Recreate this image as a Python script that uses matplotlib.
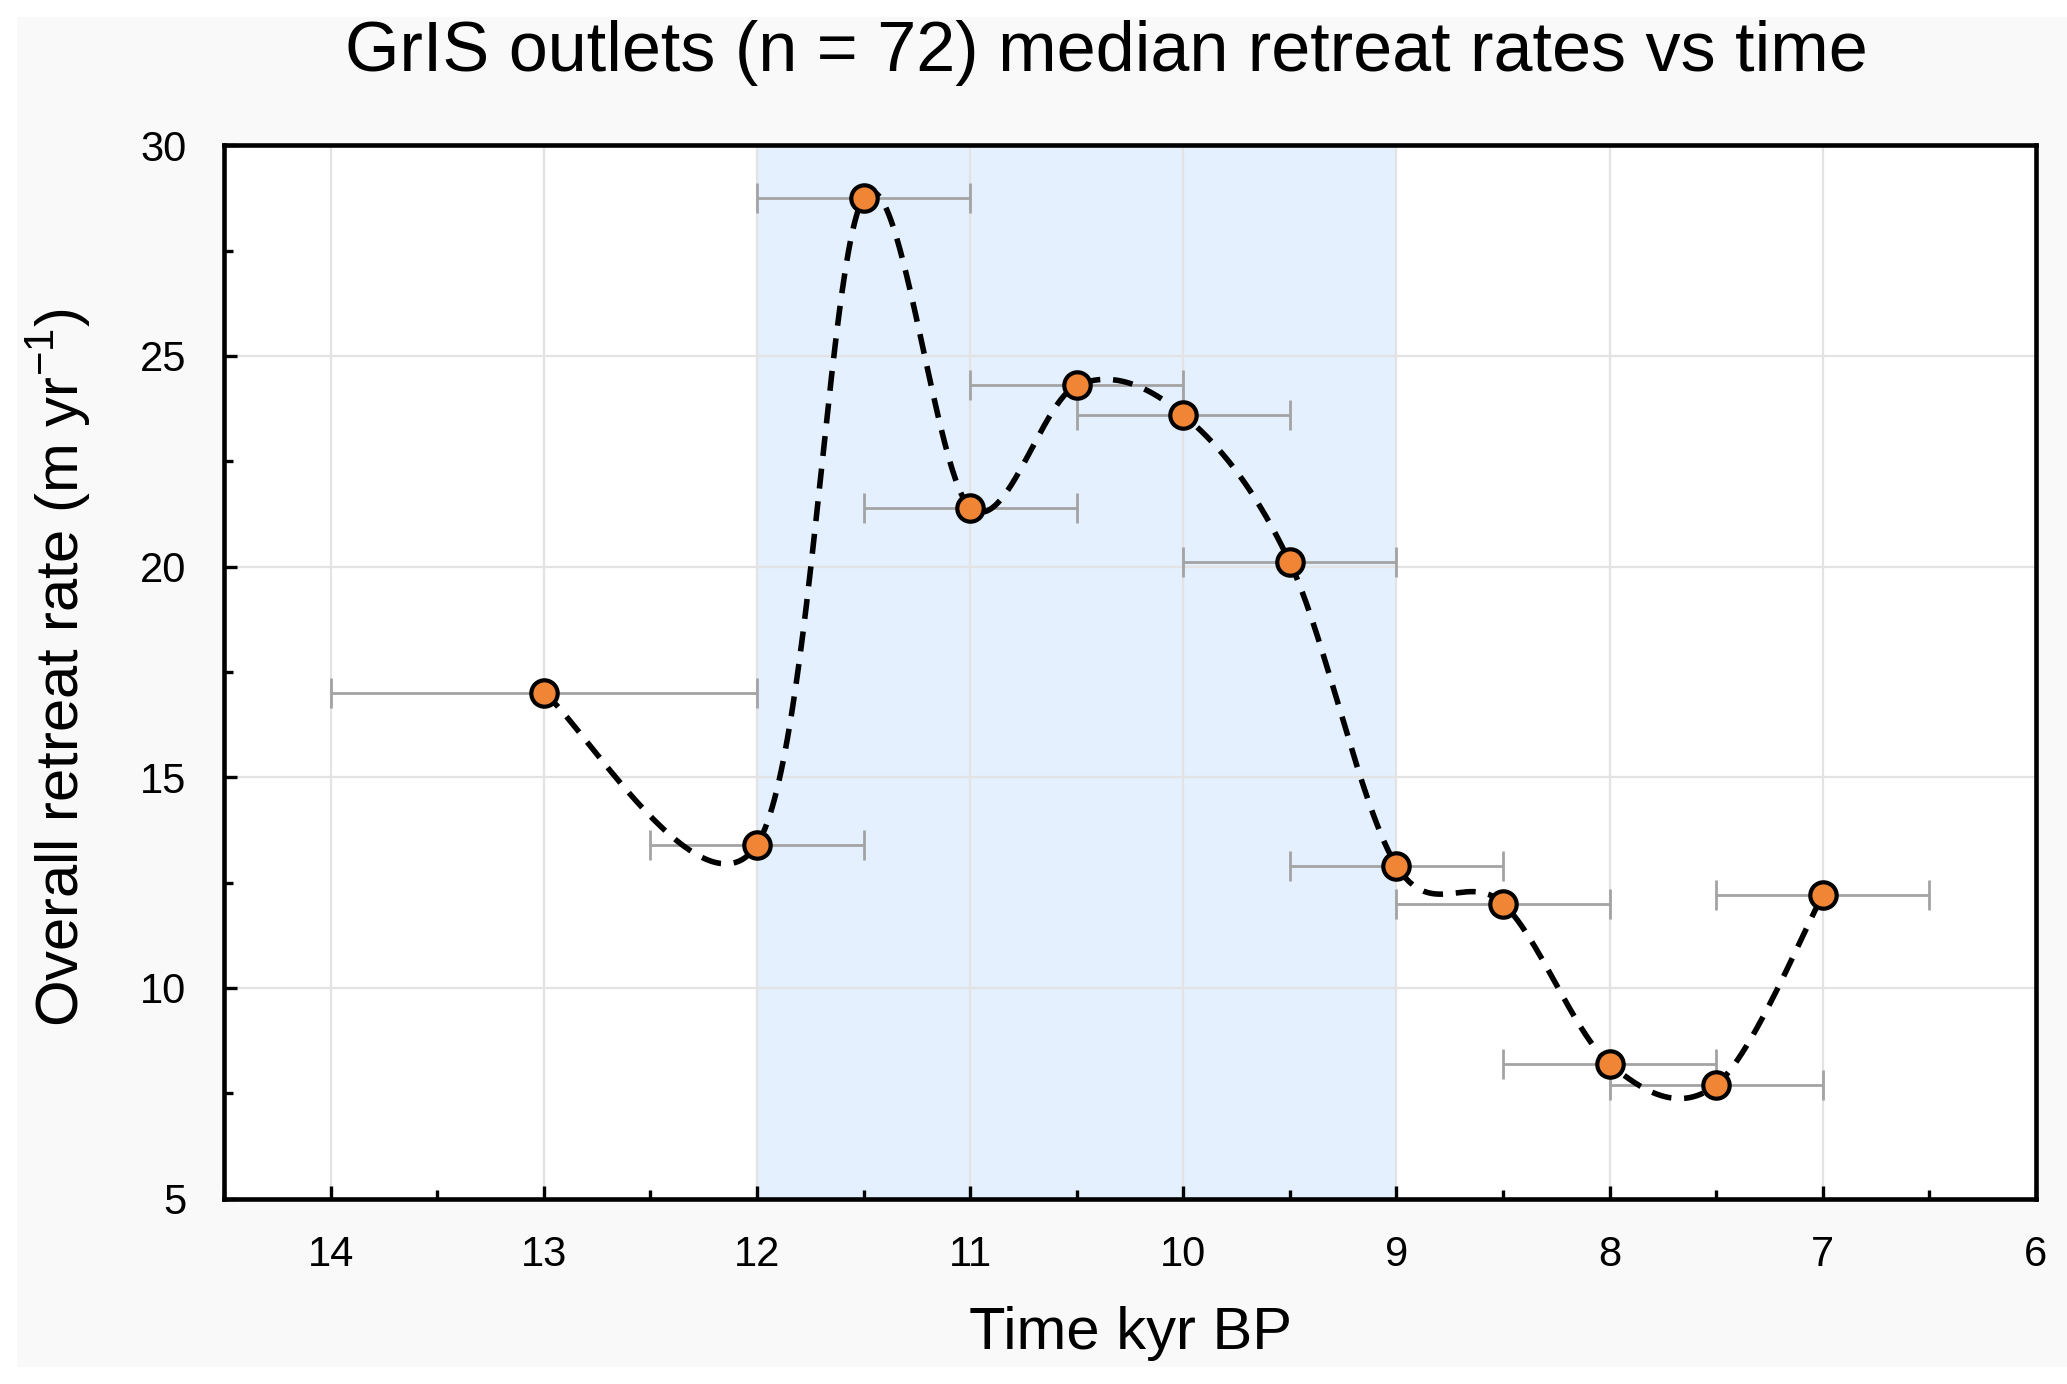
"""
Median retreat rate of GrIS outlets against time, with time-bin widths as
horizontal error bars and a smoothed dashed curve through the medians.
"""

import numpy as np
import matplotlib
matplotlib.use("Agg")
import matplotlib.pyplot as plt
from matplotlib.patches import Rectangle
from matplotlib.ticker import MultipleLocator

plt.rcParams["font.family"] = ["Liberation Sans", "DejaVu Sans"]
plt.rcParams["mathtext.fontset"] = "custom"
plt.rcParams["mathtext.rm"] = "Liberation Sans"

# bin centres (kyr BP), median rates (m/yr), half-width of each time bin
time_kyr = [13.0, 12.0, 11.5, 11.0, 10.5, 10.0, 9.5, 9.0, 8.5, 8.0, 7.5, 7.0]
rate = [17.0, 13.4, 28.75, 21.4, 24.3, 23.6, 20.1, 12.9, 12.0, 8.2, 7.7, 12.2]
half_width = [1.0, 0.5, 0.5, 0.5, 0.5, 0.5, 0.5, 0.5, 0.5, 0.5, 0.5, 0.5]

highlight = (12.0, 9.0)   # shaded interval, kyr BP

ORANGE = "#ef8535"
SHADE = "#e4f0fd"
BAR_GREY = "#a3a3a3"
GRID = "#e3e3e3"


def smooth_curve(x, y, n=60):
    """Spreadsheet-style smoothed line: Catmull-Rom as cubic Bezier segments."""
    P = np.column_stack([x, y]).astype(float)
    P = np.vstack([P[0], P, P[-1]])
    t = np.linspace(0, 1, n)[:, None]
    out = []
    for i in range(1, len(P) - 2):
        p0, p1 = P[i], P[i + 1]
        c1 = p0 + (P[i + 1] - P[i - 1]) / 6
        c2 = p1 - (P[i + 2] - P[i]) / 6
        seg = ((1 - t) ** 3) * p0 + 3 * ((1 - t) ** 2) * t * c1 \
            + 3 * (1 - t) * t ** 2 * c2 + t ** 3 * p1
        out.append(seg if i == 1 else seg[1:])
    out = np.vstack(out)
    return out[:, 0], out[:, 1]


fig = plt.figure(figsize=(20.67, 13.84), dpi=100, facecolor="white")
fig.patches.append(Rectangle((17 / 2067, 17 / 1384), 1 - 17 / 2067, 1 - 34 / 1384,
                             transform=fig.transFigure, facecolor="#f9f9f9",
                             edgecolor="none", zorder=-10))
ax = fig.add_axes([0.1084, 0.134, 0.8766, 0.761])
ax.set_facecolor("white")

ax.axvspan(highlight[0], highlight[1], color=SHADE, zorder=0, lw=0)
ax.grid(True, color=GRID, lw=1.6, zorder=1)
ax.set_axisbelow(True)

ax.errorbar(time_kyr, rate, xerr=half_width, fmt="none", ecolor=BAR_GREY,
            elinewidth=2.0, capsize=11, capthick=2.0, zorder=2)

xs, ys = smooth_curve(time_kyr, rate)
ax.plot(xs, ys, color="black", lw=4.0, dashes=(3.6, 2.3), zorder=3)

ax.plot(time_kyr, rate, "o", ms=19, mfc=ORANGE, mec="black", mew=3.0, zorder=4)

ax.set_xlim(14.5, 6)
ax.set_ylim(5, 30)
ax.xaxis.set_major_locator(MultipleLocator(1))
ax.xaxis.set_minor_locator(MultipleLocator(0.5))
ax.yaxis.set_major_locator(MultipleLocator(5))
ax.yaxis.set_minor_locator(MultipleLocator(2.5))
ax.tick_params(which="both", direction="in", top=False, right=False,
               width=2.4, labelsize=30, color="black")
ax.tick_params(which="major", length=9.5, pad=26)
ax.tick_params(which="minor", length=6.5)
ax.tick_params(axis="y", pad=27)
for sp in ax.spines.values():
    sp.set_linewidth(3.3)
    sp.set_color("black")

ax.set_xlabel("Time kyr BP", fontsize=43)
ax.xaxis.set_label_coords(0.5, -0.128)
ax.xaxis.label.set_va("center")
ax.set_ylabel("Overall retreat rate (m yr$^{-1}$)", fontsize=43)
ax.yaxis.set_label_coords(-0.091, 0.504)
ax.yaxis.label.set_va("center")
ax.set_title("GrIS outlets (n = 72) median retreat rates vs time",
             fontsize=50.5, x=0.487, y=1.08, va="center")

fig.savefig("out.png", dpi=100, facecolor=fig.get_facecolor())
